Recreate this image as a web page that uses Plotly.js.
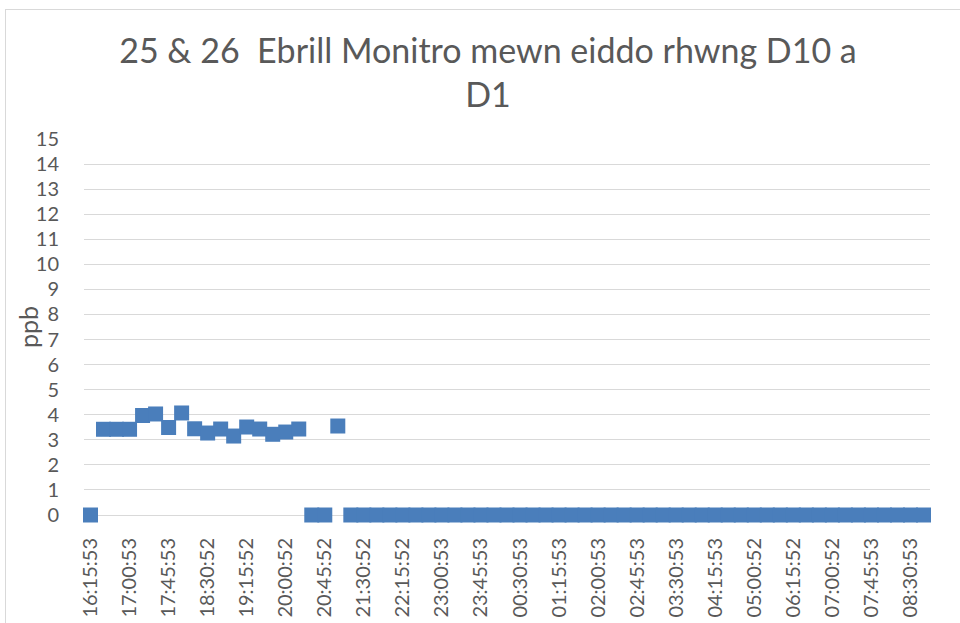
<!DOCTYPE html>
<html>
<head>
<meta charset="utf-8">
<script src="https://cdn.plot.ly/plotly-3.0.1.min.js"></script>
<style>
  html, body { margin: 0; padding: 0; background: #fff; overflow: hidden; }
  #chart { position: absolute; left: 0; top: 0; width: 960px; height: 623px; }
  #frame { position: absolute; left: 5px; top: 9px; width: 1000px; height: 700px;
           border: 1px solid #d9d9d9; pointer-events: none; }
</style>
</head>
<body>
<div id="chart"></div>
<div id="frame"></div>
<script>
const times = ["16:15:53","16:30:53","16:45:53","17:00:53","17:15:53","17:30:53","17:45:53",
  "18:00:52","18:15:52","18:30:52","18:45:52","19:00:52","19:15:52","19:30:52","19:45:52",
  "20:00:52","20:15:52","20:30:52","20:45:52","21:00:52","21:15:52","21:30:52","21:45:52",
  "22:00:52","22:15:52","22:30:52","22:45:53","23:00:53","23:15:53","23:30:53","23:45:53",
  "00:00:53","00:15:53","00:30:53","00:45:53","01:00:53","01:15:53","01:30:53","01:45:53",
  "02:00:53","02:15:53","02:30:53","02:45:53","03:00:53","03:15:53","03:30:53","03:45:53",
  "04:00:53","04:15:53","04:30:52","04:45:52","05:00:52","05:15:52","05:30:52","06:15:52",
  "06:30:52","06:45:52","07:00:52","07:15:52","07:30:53","07:45:53","08:00:53","08:15:53",
  "08:30:53","08:45:53"];

const ppb = [0, 3.42, 3.42, 3.42, 3.97, 4.03, 3.49, 4.07, 3.44, 3.27, 3.43, 3.15, 3.51, 3.43, 3.22, 3.31, 3.43,
  0, 0, 3.55,
  0, 0, 0, 0, 0, 0, 0, 0, 0, 0, 0, 0, 0, 0, 0, 0, 0, 0, 0, 0, 0, 0, 0, 0, 0,
  0, 0, 0, 0, 0, 0, 0, 0, 0, 0, 0, 0, 0, 0, 0, 0, 0, 0, 0, 0];

const titleText = "25 & 26  Ebrill Monitro mewn eiddo rhwng D10 a<br>D1";
const yTitle = "ppb";

const FONT = "Lato, 'Open Sans', sans-serif";
const GREY = "#595959";

const trace = {
  x: times,
  y: ppb,
  type: "scatter",
  mode: "markers",
  cliponaxis: false,
  marker: { symbol: "square", size: 15, color: "#4a7ebb", line: { width: 0 } },
  hoverinfo: "x+y"
};

const layout = {
  width: 960, height: 623,
  paper_bgcolor: "rgba(0,0,0,0)", plot_bgcolor: "#fff",
  margin: { l: 84, r: 30, t: 139, b: 108 },
  showlegend: false,
  font: { family: FONT, color: GREY },
  title: {
    text: titleText,
    font: { family: FONT, size: 34, color: GREY },
    xref: "container", x: 488 / 960, xanchor: "center",
    yref: "container", y: 1 - 63 / 623, yanchor: "top"
  },
  xaxis: {
    type: "category",
    range: [-0.5, times.length - 0.5],
    tickmode: "linear", tick0: 0, dtick: 3,
    tickangle: -90,
    ticks: "outside", ticklen: 14, tickcolor: "rgba(0,0,0,0)",
    tickfont: { family: FONT, size: 20, color: GREY },
    showgrid: false,
    showline: true, linecolor: "#d9d9d9", linewidth: 1,
    layer: "below traces",
    zeroline: false, fixedrange: true
  },
  yaxis: {
    range: [0, 15],
    tickmode: "linear", tick0: 0, dtick: 1,
    ticks: "outside", ticklen: 20, tickcolor: "rgba(0,0,0,0)",
    tickfont: { family: FONT, size: 20, color: GREY },
    showgrid: true, gridcolor: "#d9d9d9", gridwidth: 1,
    zeroline: false, showline: false,
    layer: "below traces",
    fixedrange: true
  },
  annotations: [{
    text: yTitle,
    xref: "paper", yref: "paper",
    x: -(84 - 28) / 846, y: (515 - 327) / 376,
    xanchor: "center", yanchor: "middle",
    textangle: -90, showarrow: false,
    font: { family: FONT, size: 25, color: GREY }
  }]
};

Plotly.newPlot("chart", [trace], layout, { displayModeBar: false, staticPlot: true });
</script>
</body>
</html>
